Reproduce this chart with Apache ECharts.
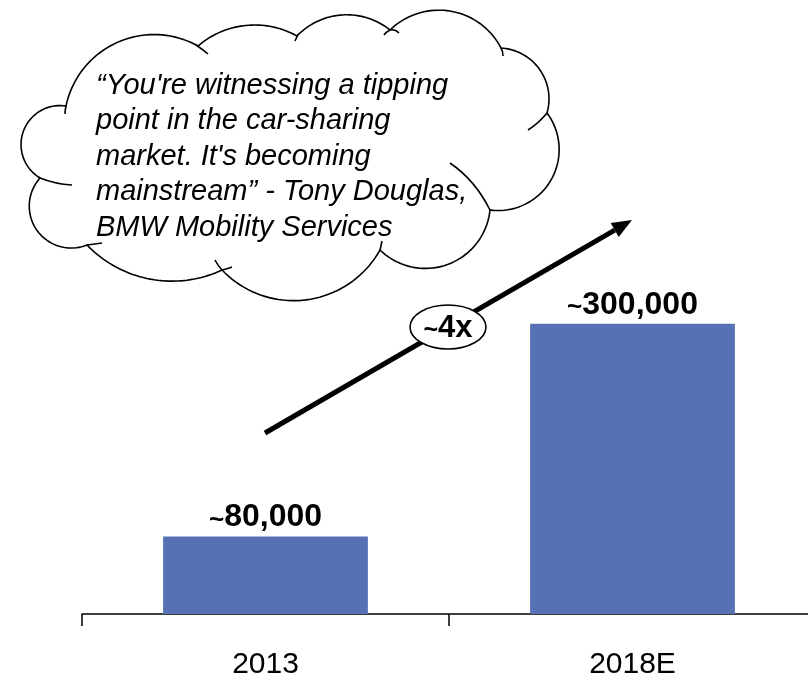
<!DOCTYPE html>
<html>
<head>
<meta charset="utf-8">
<script src="https://cdn.jsdelivr.net/npm/echarts@6/dist/echarts.min.js"></script>
<style>
  html, body { margin: 0; padding: 0; background: #ffffff; }
  #chart { width: 808px; height: 678px; }
</style>
</head>
<body>
<div id="chart"></div>
<script>
// Car-sharing members, 2013 vs. 2018 estimate
const categories = ['2013', '2018E'];
const members = [80000, 300000];
const growthLabel = '4x';
const quoteLines = [
  '\u201CYou\'re witnessing a tipping',
  'point in the car-sharing',
  'market. It\'s becoming',
  'mainstream\u201D - Tony Douglas,',
  'BMW Mobility Services'
];

const FONT = 'Liberation Sans, Arial, Helvetica, sans-serif';
const BAR_COLOR = '#5671b4';

const chart = echarts.init(document.getElementById('chart'), null, { renderer: 'canvas' });

// Sample a clockwise circular arc of radius r from p1 to p2 (minor arc)
function arcPoints(p1, p2, r, steps) {
  const mx = (p1[0] + p2[0]) / 2, my = (p1[1] + p2[1]) / 2;
  const vx = p2[0] - p1[0], vy = p2[1] - p1[1];
  const c = Math.sqrt(vx * vx + vy * vy);
  const h = c / 2;
  const d = Math.sqrt(Math.max(r * r - h * h, 0));
  const ux = vx / c, uy = vy / c;
  const cx = mx - uy * d, cy = my + ux * d;
  let a1 = Math.atan2(p1[1] - cy, p1[0] - cx);
  let a2 = Math.atan2(p2[1] - cy, p2[0] - cx);
  while (a2 < a1) a2 += Math.PI * 2;
  const pts = [];
  for (let i = 0; i <= steps; i++) {
    const a = a1 + (a2 - a1) * i / steps;
    pts.push([cx + r * Math.cos(a), cy + r * Math.sin(a)]);
  }
  return pts;
}

// Thought-cloud outline: chain of outward bumps, clockwise from the upper-left
const cloudBumps = [
  [[66, 106], [198, 46], 90],
  [[198, 46], [297, 36], 87],
  [[297, 36], [390, 30], 69],
  [[390, 30], [501, 48], 70],
  [[501, 48], [547, 113], 51],
  [[547, 113], [490, 210], 61],
  [[490, 210], [380, 250], 65],
  [[380, 250], [222, 270], 99],
  [[222, 270], [87, 245], 118],
  [[87, 245], [40, 178], 42],
  [[40, 178], [66, 106], 39]
];
let cloudOutline = [];
cloudBumps.forEach(b => {
  const pts = arcPoints(b[0], b[1], b[2], 40);
  cloudOutline = cloudOutline.concat(cloudOutline.length ? pts.slice(1) : pts);
});

// Short inner strokes where neighbouring bumps overlap
const cloudTails = [
  [196, 45, 202, 49, 208, 54],
  [298, 34, 297, 37, 295, 41],
  [390, 30, 395, 29, 399, 33],
  [384, 35, 386, 32, 390, 30],
  [501, 48, 503, 51, 503, 56],
  [547, 113, 539, 123, 528, 130],
  [450, 163, 475, 180, 490, 210],
  [382, 241, 381, 246, 380, 250],
  [222, 270, 218, 266, 215, 260],
  [222, 270, 227, 269, 232, 267],
  [87, 245, 95, 244, 102, 243],
  [40, 178, 55, 184, 72, 185],
  [66, 106, 65, 110, 65, 114]
];

// Growth arrow between the two bars
const arrowTail = [265, 433];
const arrowTip = [632, 220];
const dx = arrowTip[0] - arrowTail[0], dy = arrowTip[1] - arrowTail[1];
const len = Math.sqrt(dx * dx + dy * dy);
const ux = dx / len, uy = dy / len;
const headLen = 20, headHalf = 8;
const baseX = arrowTip[0] - headLen * ux, baseY = arrowTip[1] - headLen * uy;
const px = -uy, py = ux;

const graphics = [
  {
    type: 'polygon',
    shape: { points: cloudOutline },
    style: { fill: '#ffffff', stroke: '#000000', lineWidth: 1.6 },
    z: 10
  }
];
cloudTails.forEach(t => {
  graphics.push({
    type: 'bezierCurve',
    shape: { x1: t[0], y1: t[1], cpx1: t[2], cpy1: t[3], x2: t[4], y2: t[5] },
    style: { fill: null, stroke: '#000000', lineWidth: 1.6 },
    z: 11
  });
});
graphics.push(
  {
    type: 'text',
    x: 96,
    y: 68,
    z: 12,
    style: {
      text: quoteLines.join('\n'),
      font: 'italic 29px ' + FONT,
      fill: '#000000',
      lineHeight: 35.5,
      verticalAlign: 'top',
      align: 'left'
    }
  },
  {
    type: 'line',
    shape: { x1: arrowTail[0], y1: arrowTail[1], x2: baseX, y2: baseY },
    style: { stroke: '#000000', lineWidth: 5 },
    z: 10
  },
  {
    type: 'polygon',
    shape: {
      points: [
        arrowTip,
        [baseX + headHalf * px, baseY + headHalf * py],
        [baseX - headHalf * px, baseY - headHalf * py]
      ]
    },
    style: { fill: '#000000' },
    z: 10
  },
  {
    type: 'ellipse',
    shape: { cx: 448, cy: 327, rx: 38, ry: 22 },
    style: { fill: '#ffffff', stroke: '#000000', lineWidth: 1.6 },
    z: 11
  },
  {
    type: 'text',
    x: 448,
    y: 328,
    z: 12,
    style: {
      text: '{t|~}{v|' + growthLabel + '}',
      align: 'center',
      verticalAlign: 'middle',
      rich: {
        t: { fontSize: 25, fontWeight: 'bold', fontFamily: FONT, fill: '#000000', verticalAlign: 'bottom' },
        v: { fontSize: 31, fontWeight: 'bold', fontFamily: FONT, fill: '#000000', verticalAlign: 'bottom' }
      }
    }
  }
);

const option = {
  animation: false,
  backgroundColor: '#ffffff',
  grid: { left: 82, width: 734, top: 227, bottom: 64, containLabel: false, outerBoundsMode: 'none' },
  xAxis: {
    type: 'category',
    data: categories,
    boundaryGap: true,
    axisLine: { show: true, lineStyle: { color: '#000000', width: 1.5 } },
    axisTick: { show: true, alignWithLabel: false, length: 12, lineStyle: { color: '#000000', width: 1.5 } },
    axisLabel: { color: '#000000', fontSize: 30, fontFamily: FONT, margin: 36 },
    splitLine: { show: false }
  },
  yAxis: {
    type: 'value',
    min: 0,
    max: 400000,
    show: false,
    splitLine: { show: false }
  },
  series: [{
    type: 'bar',
    data: members,
    barWidth: '55.8%',
    itemStyle: { color: BAR_COLOR },
    label: {
      show: true,
      position: 'top',
      distance: 3,
      formatter: (p) => '{t|~}{v|' + p.value.toLocaleString('en-US') + '}',
      rich: {
        t: { fontSize: 26, fontWeight: 'bold', fontFamily: FONT, color: '#000000', verticalAlign: 'bottom' },
        v: { fontSize: 32, fontWeight: 'bold', fontFamily: FONT, color: '#000000', verticalAlign: 'bottom' }
      }
    }
  }],
  graphic: graphics
};

chart.setOption(option);
</script>
</body>
</html>
